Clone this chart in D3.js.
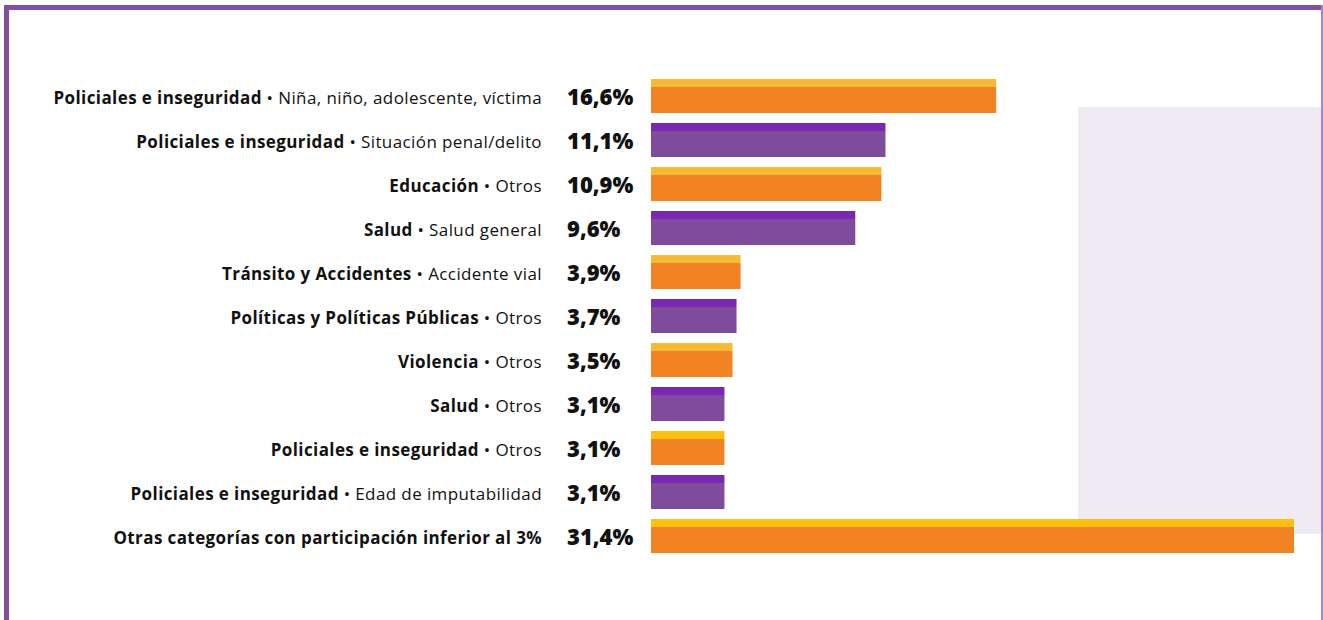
<!DOCTYPE html>
<html>
<head>
<meta charset="utf-8">
<script src="https://cdn.jsdelivr.net/npm/d3@7"></script>
<style>
  body { margin: 0; background: #fff; }
  svg { display: block; }
</style>
</head>
<body>
<div class="chart"></div>
<script>
// categories (bold part), sub categories, and shares in %
var categories = [
  "Policiales e inseguridad",
  "Policiales e inseguridad",
  "Educación",
  "Salud",
  "Tránsito y Accidentes",
  "Políticas y Políticas Públicas",
  "Violencia",
  "Salud",
  "Policiales e inseguridad",
  "Policiales e inseguridad",
  "Otras categorías con participación inferior al 3%"
];
var subcategories = [
  "Niña, niño, adolescente, víctima",
  "Situación penal/delito",
  "Otros",
  "Salud general",
  "Accidente vial",
  "Otros",
  "Otros",
  "Otros",
  "Otros",
  "Edad de imputabilidad",
  ""
];
var shares = [16.6, 11.1, 10.9, 9.6, 3.9, 3.7, 3.5, 3.1, 3.1, 3.1, 31.4];

var svgWidth = 1323;
var svgHeight = 620;

var svg = d3.select(".chart")
  .append("svg")
  .attr("width", svgWidth)
  .attr("height", svgHeight);

// frame
svg.append("rect")
  .attr("x", 4).attr("y", 5)
  .attr("width", 1318).attr("height", 5)
  .attr("fill", "#8150a3");
svg.append("rect")
  .attr("x", 4).attr("y", 5)
  .attr("width", 5).attr("height", 615)
  .attr("fill", "#8150a3");
svg.append("rect")
  .attr("x", 1321).attr("y", 5)
  .attr("width", 2).attr("height", 615)
  .attr("fill", "#a985c8");

// light background panel at the right
svg.append("rect")
  .attr("x", 1078).attr("y", 107)
  .attr("width", 243).attr("height", 427)
  .attr("fill", "#f0eaf3");

var rows = d3.range(shares.length);

var y = d3.scaleBand()
  .domain(rows)
  .range([79, 553])
  .paddingInner(10 / 44)
  .paddingOuter(0);

var barLeft = 651;
var x = d3.scaleLinear()
  .domain([-0.55, 31.4])
  .range([0, 643]);

var capH = 8;

var isOrange = i => i % 2 === 0;

var bars = svg.append("g").selectAll("g")
  .data(rows)
  .enter()
  .append("g");

bars.append("rect")
  .attr("x", barLeft)
  .attr("y", i => y(i) + capH)
  .attr("width", i => x(shares[i]))
  .attr("height", y.bandwidth() - capH)
  .attr("fill", i => isOrange(i) ? "#f28322" : "#7f4b9c");

bars.append("rect")
  .attr("x", barLeft)
  .attr("y", i => y(i))
  .attr("width", i => x(shares[i]))
  .attr("height", capH)
  .attr("fill", i => isOrange(i) ? (i > 6 ? "#fdbf12" : "#f6bb34") : "#7b27b0");

// value labels
svg.append("g").selectAll("text")
  .data(rows)
  .enter()
  .append("text")
  .attr("x", 567)
  .attr("y", i => y(i) + y.bandwidth() / 2 + 9)
  .attr("font-family", "'Open Sans', sans-serif")
  .attr("font-weight", 800)
  .attr("font-size", "22px")
  .attr("fill", "#111")
  .text(i => d3.format(".1f")(shares[i]).replace(".", ",") + "%");

// row labels
var labels = svg.append("g").selectAll("text")
  .data(rows)
  .enter()
  .append("text")
  .attr("x", 542)
  .attr("y", i => y(i) + y.bandwidth() / 2 + 8)
  .attr("text-anchor", "end")
  .attr("font-family", "'Open Sans', sans-serif")
  .attr("font-size", "17px")
  .attr("letter-spacing", "0.4px")
  .attr("fill", "#111");

labels.append("tspan")
  .attr("font-weight", 700)
  .text(i => categories[i]);

labels.append("tspan")
  .text(i => subcategories[i] ? " • " + subcategories[i] : "");
</script>
</body>
</html>
